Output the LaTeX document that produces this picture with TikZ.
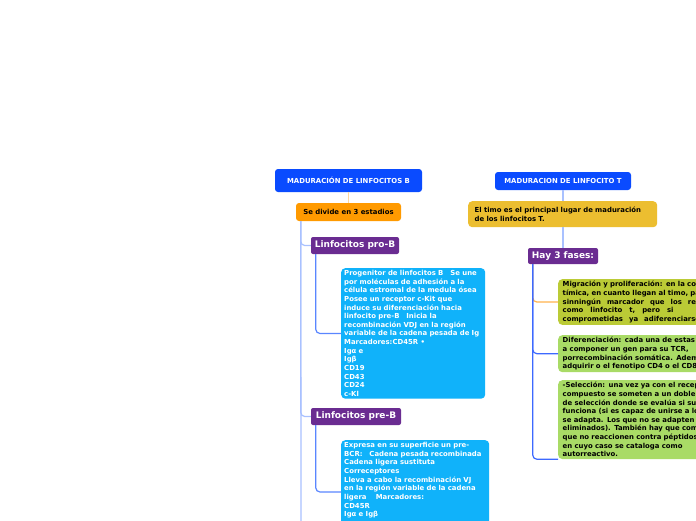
\documentclass[tikz,border=0pt]{standalone}
\usepackage{fontspec}
\setmainfont{DejaVu Sans}
\usepackage{xcolor}
\definecolor{MTBlue}    {HTML}{0A4BFF}
\definecolor{MTOrange}  {HTML}{FF9A00}
\definecolor{MTPurple}  {HTML}{6A2C91}
\definecolor{MTCyan}    {HTML}{10B2FA}
\definecolor{MTYellow}  {HTML}{ECBE30}
\definecolor{MTOlive}   {HTML}{BBCB36}
\definecolor{MTGreen}   {HTML}{A9DB66}
\definecolor{MTLinkLt}  {HTML}{A9C1FF}
\definecolor{MTLink}    {HTML}{5A86FF}
\definecolor{MTLinkDk}  {HTML}{3D69FF}
\definecolor{MTPeach}   {HTML}{FFD7A0}
\definecolor{MTLinkOr}  {HTML}{FFB34D}

\begin{document}
\begin{tikzpicture}[x=1pt,y=-1pt,
    headbox/.style={fill=MTBlue,text=white,rounded corners=3pt,inner sep=0pt,
                    font=\fontsize{6.9}{7}\selectfont\bfseries},
    stagebox/.style={fill=MTOrange,text=black,rounded corners=3pt,inner sep=0pt,
                    font=\fontsize{6.9}{7}\selectfont\bfseries},
    phasebox/.style={fill=MTPurple,text=white,rounded corners=2pt,inner sep=0pt,
                    font=\fontsize{9}{9}\selectfont\bfseries},
    infobox/.style={fill=MTCyan,text=white,rounded corners=4pt,anchor=north west,
                    align=left,inner xsep=3pt,inner ysep=2pt,
                    font=\fontsize{6.9}{8.65}\selectfont\bfseries},
    notebox/.style={text=black,rounded corners=4pt,anchor=north west,
                    align=left,inner xsep=4.5pt,inner ysep=2pt,
                    font=\fontsize{6.9}{8.65}\selectfont\bfseries},
    linkpeach/.style={draw=MTPeach,line width=1.2pt},
    linklt/.style={draw=MTLinkLt,line width=1.2pt,rounded corners=4pt},
    linkmid/.style={draw=MTLink,line width=1.2pt,rounded corners=4pt},
    linkdk/.style={draw=MTLinkDk,line width=1.2pt,rounded corners=4pt},
    linkor/.style={draw=MTLinkOr,line width=1.2pt,rounded corners=4pt}]
  \path[use as bounding box,clip] (0,0) rectangle (696,520);
  \fill[white] (0,0) rectangle (696,520);

  % Linfocitos B
  \node[headbox,minimum width=147pt,minimum height=23pt] (titleB) at (348.5,180.5) {MADURACIÓN DE LINFOCITOS B};
  \node[stagebox,minimum width=105pt,minimum height=18pt] (estadios) at (348.5,212) {Se divide en 3 estadios};
  \node[phasebox,minimum width=88pt,minimum height=17pt] (proB) at (355,245.5) {Linfocitos pro-B};
  \node[infobox,text width=138pt] (proBtxt) at (341,268)
    {Progenitor de linfocitos B~~~Se une\\
     por moléculas de adhesión a la\\
     célula estromal de la medula ósea\\
     Posee un receptor c-Kit que\\
     induce su diferenciación hacia\\
     linfocito pre-B~~~Inicia la\\
     recombinación VDJ en la región\\
     variable de la cadena pesada de Ig\\
     Marcadores:CD45R •\\
     Igα e\\
     Igβ\\
     CD19\\
     CD43\\
     CD24\\
     c-Kl};
  \node[phasebox,minimum width=90pt,minimum height=17pt] (preB) at (356,416.5) {Linfocitos pre-B};
  \node[infobox,text width=142pt] (preBtxt) at (341,440)
    {Expresa en su superficie un pre-\\
     BCR:~~~Cadena pesada recombinada\\
     Cadena ligera sustituta\\
     Correceptores\\
     Lleva a cabo la recombinación VJ\\
     en la región variable de la cadena\\
     ligera~~~~Marcadores:\\
     CD45R\\
     Igα e Igβ\rule[-25pt]{0pt}{25pt}};
  \coordinate (thirdB) at (301,545);

  \draw[linkpeach] (titleB.south) -- (estadios.north);
  \draw[linklt] ([xshift=5pt]estadios.south west) |- (proB.west);
  \draw[linklt] ([xshift=5pt]estadios.south west) |- (preB.west);
  \draw[linklt] ([xshift=5pt]estadios.south west) -- (thirdB);
  \draw[linkmid] ([xshift=5pt]proB.south west) |- (proBtxt.west);
  \draw[linkmid] ([xshift=5pt]preB.south west) |- (preBtxt.west);

  % Linfocitos T
  \node[headbox,minimum width=136pt,minimum height=18pt] (titleT) at (563,181) {MADURACION DE LINFOCITO T};
  \node[notebox,fill=MTYellow,text width=176pt,minimum height=26pt,inner xsep=6.5pt] (timo) at (468,201)
    {El timo es el principal lugar de maduración\\de los linfocitos T.};
  \node[phasebox,minimum width=70pt,minimum height=16pt] (fases) at (563,256) {Hay 3 fases:};
  \node[notebox,fill=MTOlive,text width=175pt] (migra) at (558,279)
    {Migración y proliferación: en la corteza\\
     tímica, en cuanto llegan al timo, pasan\\
     sinningún\hspace{6pt}marcador\hspace{6pt}que\hspace{6pt}los\hspace{6pt}reconozca\\
     como\hspace{7pt}linfocito\hspace{7pt}t,\hspace{7pt}pero\hspace{7pt}si\hspace{40pt}están\\
     comprometidas\hspace{6pt}ya\hspace{6pt}adiferenciarse};
  \node[notebox,fill=MTGreen,text width=175pt] (difer) at (558,335)
    {Diferenciación: cada una de estas células\\
     a componer un gen para su TCR,\\
     porrecombinación somática. Además,\\
     adquirir o el fenotipo CD4 o el CD8.};
  \node[notebox,fill=MTGreen,text width=175pt] (selec) at (558,380)
    {-Selección: una vez ya con el receptor\\
     compuesto se someten a un doble proceso\\
     de selección donde se evalúa si su TCR\\
     funciona (si es capaz de unirse a los\\
     se adapta. Los que no se adapten son\\
     eliminados). También hay que comprobar\\
     que no reaccionen contra péptidos propios,\\
     en cuyo caso se cataloga como\\
     autorreactivo.};

  \draw[linklt] (titleT.south) -- (titleT.south |- timo.north);
  \draw[linklt] (fases.north |- timo.south) -- (fases.north);
  \draw[linkor] ([xshift=5pt]fases.south west) |- (migra.west);
  \draw[linkdk] ([xshift=5pt]fases.south west) |- (difer.west);
  \draw[linkdk] ([xshift=5pt]fases.south west) |- (selec.south west);
\end{tikzpicture}
\end{document}
